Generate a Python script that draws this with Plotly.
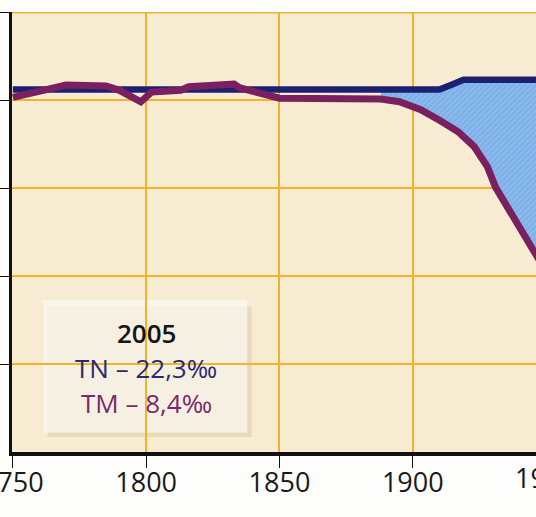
import plotly.graph_objects as go

# taux de mortalité (TM), en ‰
tm_years = [1750, 1770, 1785, 1790, 1798, 1802, 1813, 1816, 1833, 1835, 1850,
            1888, 1895, 1903, 1910, 1917, 1923, 1928, 1931, 1937, 1942, 1946, 1950]
tm_values = [40.3, 41.7, 41.6, 41.1, 39.8, 40.9, 41.1, 41.5, 41.8, 41.4, 40.2,
             40.1, 39.8, 38.9, 37.7, 36.4, 34.7, 32.4, 30.1, 27.2, 24.5, 22.6, 20.5]

# taux de natalité (TN), en ‰
tn_years = [1750, 1850, 1888, 1910, 1915, 1919, 1950]
tn_values = [41.2, 41.2, 41.2, 41.2, 41.8, 42.3, 42.3]

tick_years = [1750, 1800, 1850, 1900]
hidden_year = 1950
y_ticks = [10, 20, 30, 40, 50]

box_title = "2005"
box_tn = "TN – 22,3‰"
box_tm = "TM – 8,4‰"

fill_from = 1888
X0, X1 = 1749.7, 1946.2
Y0, Y1 = 0, 50

gold = "#f0b42a"
navy = "#1b2070"
plum = "#7a2060"
font = "Open Sans"

tm_fill_x = [y for y in tm_years if y >= fill_from]
tm_fill_y = [v for y, v in zip(tm_years, tm_values) if y >= fill_from]
tn_fill_x = [y for y in tn_years if y >= fill_from]
tn_fill_y = [v for y, v in zip(tn_years, tn_values) if y >= fill_from]

fig = go.Figure()

# surface entre les deux courbes (accroissement naturel)
fig.add_trace(go.Scatter(x=tm_fill_x, y=tm_fill_y, mode="lines",
                         line=dict(width=0), hoverinfo="skip", showlegend=False))
fig.add_trace(go.Scatter(x=tn_fill_x, y=tn_fill_y, mode="lines",
                         line=dict(width=0), fill="tonexty",
                         fillcolor="#7fb2e8",
                         fillpattern=dict(shape="/", fgcolor="#a6cbf2", bgcolor="#7db0e8",
                                          size=4, solidity=0.35),
                         hoverinfo="skip", showlegend=False))

fig.add_trace(go.Scatter(x=tn_years, y=tn_values, mode="lines", name="TN",
                         line=dict(color=navy, width=6.5), showlegend=False))
fig.add_trace(go.Scatter(x=tm_years, y=tm_values, mode="lines", name="TM",
                         line=dict(color=plum, width=7), showlegend=False))

# bord supérieur doré
fig.add_shape(type="line", xref="paper", x0=0, x1=1, yref="y", y0=Y1, y1=Y1,
              line=dict(color=gold, width=3))

# cartouche 2005
fig.add_shape(type="rect", x0=1763.0, x1=1839.5, y0=1.7, y1=16.5,
              fillcolor="rgba(190,150,80,0.22)", line=dict(width=0), layer="below")
fig.add_shape(type="rect", x0=1761.4, x1=1837.9, y0=2.2, y1=17.3,
              fillcolor="rgba(250,248,242,0.72)", line=dict(width=0), layer="below")

fig.add_annotation(x=1800, y=13.5, text=box_title, showarrow=False,
                   font=dict(family=font, size=26, color="#151515", weight=600))
fig.add_annotation(x=1800, y=9.5, text=box_tn, showarrow=False,
                   font=dict(family=font, size=26, color="#2a2a6e"))
fig.add_annotation(x=1800, y=5.6, text=box_tm, showarrow=False,
                   font=dict(family=font, size=26, color="#7a2a6a"))

# étiquette 1950, à moitié hors cadre
fig.add_annotation(xref="paper", yref="paper", x=(hidden_year - X0) / (X1 - X0), y=0,
                   xanchor="center", yanchor="top", yshift=-5, text=str(hidden_year),
                   showarrow=False, font=dict(family=font, size=27, color="#1a1a1a"))

fig.update_layout(
    width=536, height=517,
    margin=dict(l=12, r=0, t=12, b=65, autoexpand=False),
    paper_bgcolor="#fdfdfb",
    plot_bgcolor="#f7ecd2",
    showlegend=False,
    xaxis=dict(range=[X0, X1], tickvals=tick_years, ticks="outside", ticklen=12,
               tickwidth=1.2, tickcolor="#111", showline=True, linecolor="#111",
               linewidth=3.5, showgrid=True, gridcolor=gold, gridwidth=1.6,
               zeroline=False, ticklabeloverflow="allow", ticklabelstandoff=-8,
               automargin=False,
               tickfont=dict(family=font, size=27, color="#1a1a1a")),
    yaxis=dict(range=[Y0, Y1], tickvals=y_ticks, ticks="outside", ticklen=10,
               tickwidth=1.2, tickcolor="#111", showline=True, linecolor="#111",
               linewidth=3, showgrid=True, gridcolor=gold, gridwidth=1.6,
               zeroline=False, showticklabels=False, automargin=False),
)

fig.write_html("out.html", config={"displayModeBar": False},
               post_script="document.body.style.margin='0';")
